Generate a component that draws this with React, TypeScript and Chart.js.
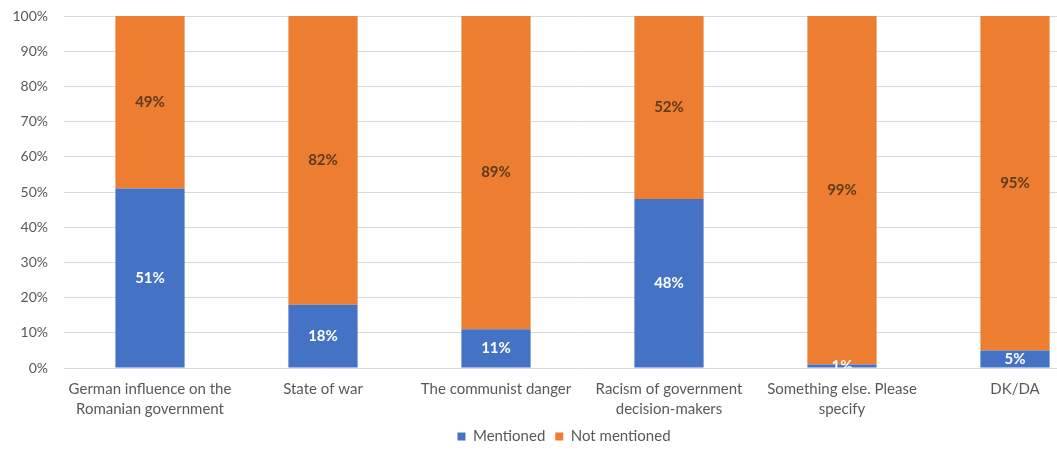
import React, { useEffect, useRef } from "react";
import { Chart, registerables } from "chart.js";

Chart.register(...registerables);

const categories: (string | string[])[] = [
  ["German influence on the", "Romanian government"],
  "State of war",
  "The communist danger",
  ["Racism of government", "decision-makers"],
  ["Something else. Please", "specify"],
  "DK/DA",
];
const mentioned = [51, 18, 11, 48, 1, 5];
const notMentioned = [49, 82, 89, 52, 99, 95];
const yTicks = [0, 10, 20, 30, 40, 50, 60, 70, 80, 90, 100];

const BLUE = "#4472C4";
const ORANGE = "#ED7D31";
const FONT = "Lato, 'Open Sans', sans-serif";

const labelPlugin = {
  id: "segLabels",
  afterDatasetsDraw(chart: any) {
    const { ctx, chartArea } = chart;
    ctx.save();
    ctx.beginPath();
    ctx.rect(chartArea.left, chartArea.top, chartArea.right - chartArea.left, chartArea.bottom - chartArea.top);
    ctx.clip();
    ctx.font = `bold 15px ${FONT}`;
    ctx.textAlign = "center";
    ctx.textBaseline = "middle";
    chart.data.datasets.forEach((ds: any, di: number) => {
      const meta = chart.getDatasetMeta(di);
      meta.data.forEach((el: any, i: number) => {
        const v = ds.data[i];
        const y = (el.y + el.base) / 2;
        ctx.fillStyle = di === 0 ? "#ffffff" : "#5e3b1d";
        ctx.fillText(`${v}%`, el.x, y);
      });
    });
    ctx.restore();
  },
};

const zeroPad = (s: any) => {
  s.paddingTop = 0;
  s.paddingBottom = 0;
  s.paddingLeft = 0;
  s.paddingRight = 0;
};

export default function App() {
  const ref = useRef<HTMLCanvasElement>(null);
  useEffect(() => {
    if (!ref.current) return;
    const chart = new Chart(ref.current, {
      type: "bar",
      data: {
        labels: categories as any,
        datasets: [
          { label: "Mentioned", data: mentioned, backgroundColor: BLUE, barPercentage: 0.4, categoryPercentage: 1 },
          { label: "Not mentioned", data: notMentioned, backgroundColor: ORANGE, barPercentage: 0.4, categoryPercentage: 1 },
        ],
      },
      options: {
        responsive: false,
        animation: false,
        layout: { padding: { top: 16, left: 0, right: 0, bottom: -4 } },
        plugins: {
          tooltip: { enabled: false },
          legend: {
            position: "bottom",
            labels: {
              boxWidth: 8,
              boxHeight: 8,
              padding: 10,
              color: "#595959",
              font: { family: FONT, size: 15 },
            },
          },
        },
        scales: {
          x: {
            stacked: true,
            grid: { display: false },
            border: { display: false },
            ticks: {
              color: "#595959",
              font: { family: FONT, size: 15, lineHeight: 1.35 } as any,
              padding: 3,
              maxRotation: 0,
              autoSkip: false,
            },
            afterFit: (s: any) => {
              s.height = 51;
              zeroPad(s);
            },
          },
          y: {
            stacked: true,
            min: 0,
            max: 100,
            afterBuildTicks: (s: any) => {
              s.ticks = yTicks.map((v) => ({ value: v }));
            },
            grid: { color: "#d9d9d9", drawTicks: false, lineWidth: 1 },
            border: { display: false },
            ticks: {
              color: "#595959",
              font: { family: FONT, size: 14 },
              padding: 15.5,
              callback: (v: any) => `${v}%`,
            },
            afterFit: (s: any) => {
              s.width = 63.5;
              zeroPad(s);
            },
          },
          y2: {
            position: "right",
            display: true,
            grid: { display: false },
            border: { display: false },
            ticks: { display: false },
            afterFit: (s: any) => {
              s.width = 26.5;
              zeroPad(s);
            },
          },
        },
      },
      plugins: [labelPlugin],
    });
    return () => chart.destroy();
  }, []);
  return (
    <div style={{ position: "fixed", left: 0, top: 0, width: 1057, height: 450, overflow: "hidden", background: "#fff" }}>
      <canvas ref={ref} width={1128} height={450} style={{ width: 1128, height: 450, display: "block" }} />
    </div>
  );
}
